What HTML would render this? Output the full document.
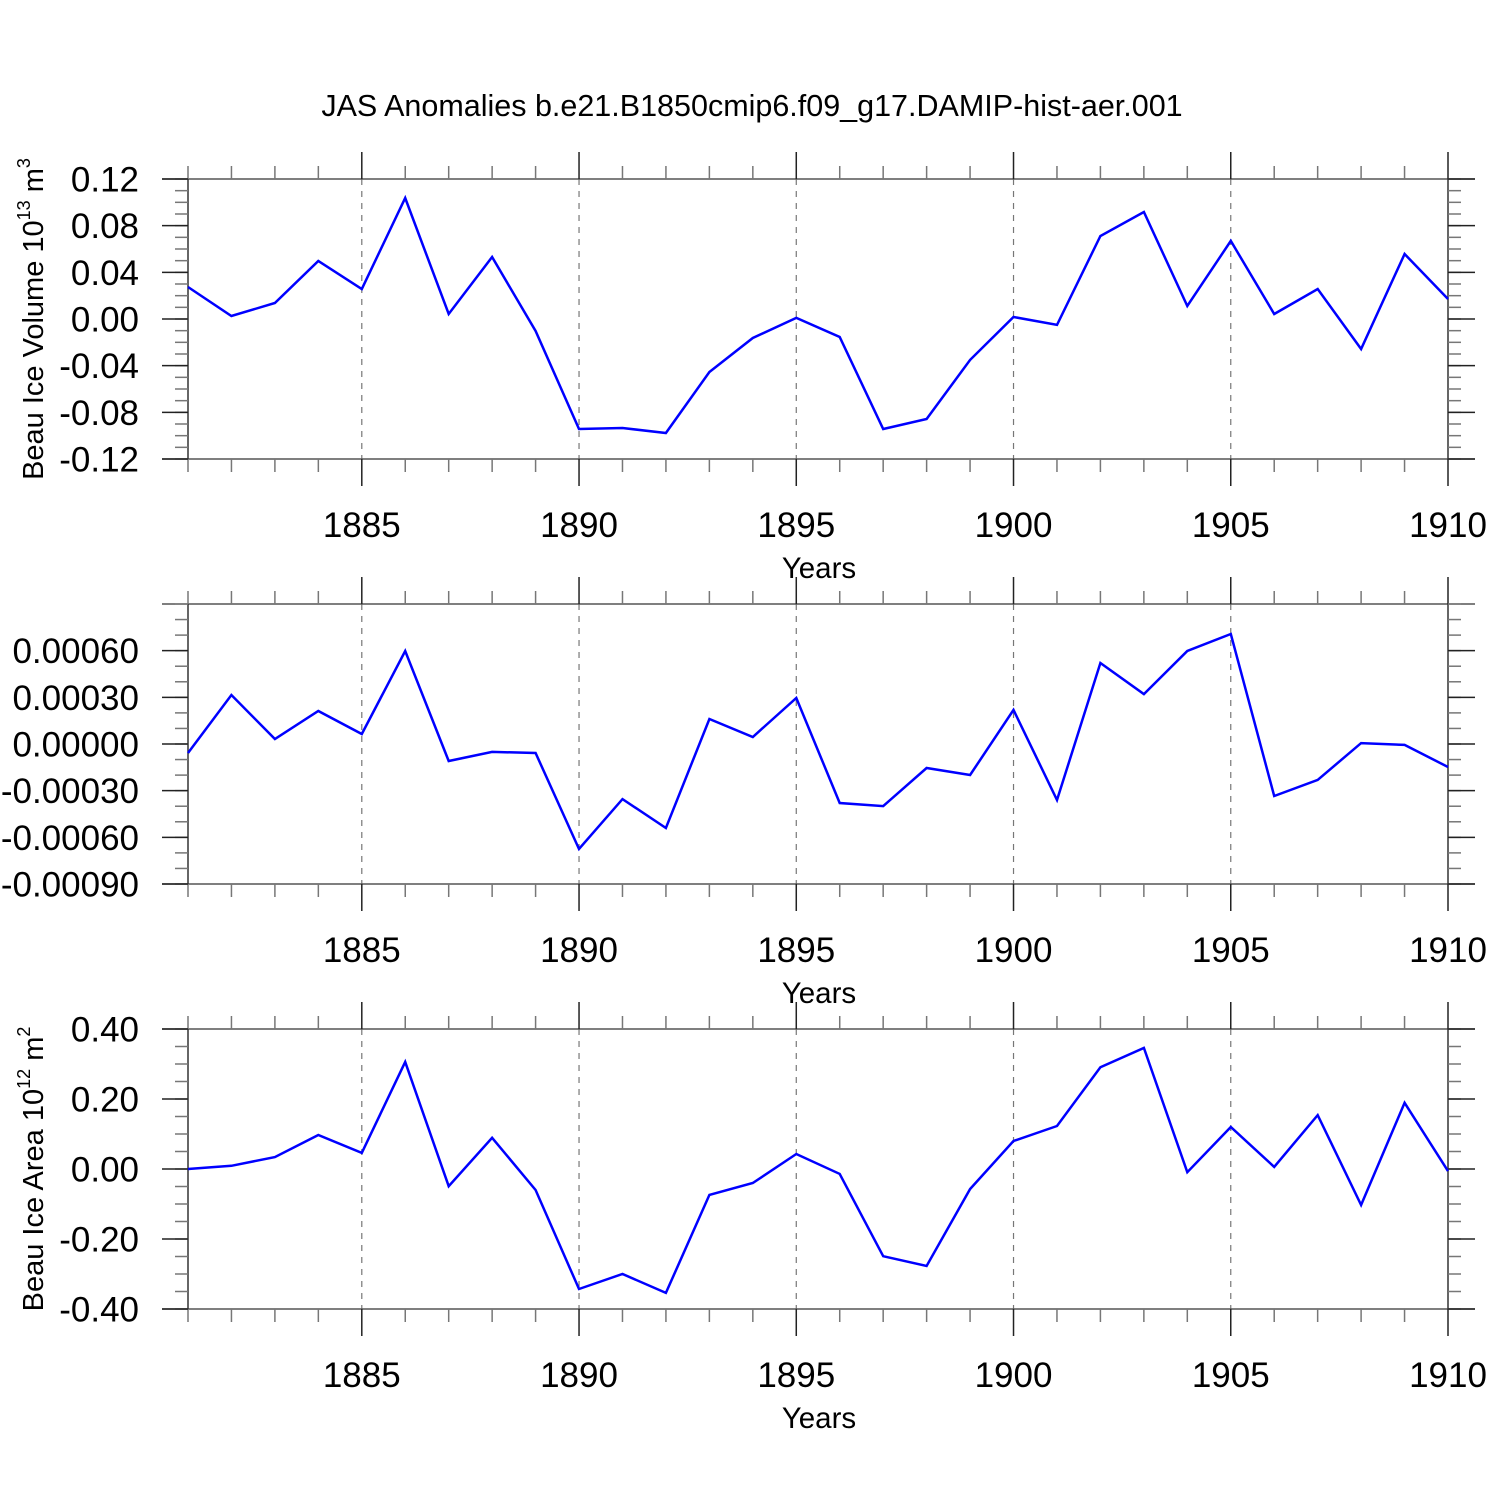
<!DOCTYPE html>
<html><head><meta charset="utf-8"><style>
html,body{margin:0;padding:0;background:#fff}
svg{display:block;font-family:"Liberation Sans",sans-serif}
</style></head><body>
<svg id="chart" width="1500" height="1500" viewBox="0 0 1500 1500" xmlns="http://www.w3.org/2000/svg">
<text x="752" y="116" font-size="30.5" text-anchor="middle">JAS Anomalies b.e21.B1850cmip6.f09_g17.DAMIP-hist-aer.001</text>
</svg>
<script>
const years = [1881,1882,1883,1884,1885,1886,1887,1888,1889,1890,1891,1892,1893,1894,1895,1896,1897,1898,1899,1900,1901,1902,1903,1904,1905,1906,1907,1908,1909,1910];
const volumeValues = [0.0274,0.0026,0.0137,0.0497,0.0257,0.1037,0.0043,0.0531,-0.0103,-0.0943,-0.0934,-0.0977,-0.0454,-0.0163,0.0009,-0.0154,-0.0943,-0.0857,-0.0351,0.0017,-0.0051,0.0711,0.0917,0.0111,0.0669,0.0043,0.0257,-0.0257,0.0557,0.0171];
const middleValues = [-0.000058,0.000315,0.000032,0.000212,0.000064,0.000598,-0.000109,-0.000051,-0.000058,-0.000675,-0.000354,-0.000540,0.000161,0.000045,0.000296,-0.000379,-0.000399,-0.000154,-0.000199,0.000219,-0.000360,0.000521,0.000321,0.000598,0.000707,-0.000334,-0.000231,0.000006,-0.000006,-0.000148];
const areaValues = [0,0.009,0.034,0.097,0.046,0.306,-0.049,0.089,-0.060,-0.343,-0.300,-0.354,-0.074,-0.040,0.043,-0.014,-0.249,-0.277,-0.057,0.080,0.123,0.291,0.346,-0.009,0.120,0.006,0.154,-0.103,0.189,-0.006];
const xTickLabels = ["1885","1890","1895","1900","1905","1910"];
const volumeTicks = ["0.12","0.08","0.04","0.00","-0.04","-0.08","-0.12"];
const middleTicks = ["0.00060","0.00030","0.00000","-0.00030","-0.00060","-0.00090"];
const areaTicks = ["0.40","0.20","0.00","-0.20","-0.40"];

const NS="http://www.w3.org/2000/svg";
const svg=document.getElementById('chart');
const X0=188,X1=1448,XMIN=1881,XMAX=1910;
function xs(v){return X0+(v-XMIN)/(XMAX-XMIN)*(X1-X0);}
function mk(tag,attrs,parent){const e=document.createElementNS(NS,tag);for(const k in attrs)e.setAttribute(k,attrs[k]);(parent||svg).appendChild(e);return e;}

const panels=[
 {name:'volume',top:179,bot:459,ymin:-0.12,ymax:0.12,vals:volumeValues,ticks:volumeTicks,tickVals:[0.12,0.08,0.04,0,-0.04,-0.08,-0.12],minor:0.01,title:'vol'},
 {name:'middle',top:604,bot:884,ymin:-0.0009,ymax:0.0009,vals:middleValues,ticks:middleTicks,tickVals:[0.0006,0.0003,0,-0.0003,-0.0006,-0.0009],minor:0.0001,title:null},
 {name:'area',top:1029,bot:1309,ymin:-0.4,ymax:0.4,vals:areaValues,ticks:areaTicks,tickVals:[0.4,0.2,0,-0.2,-0.4],minor:0.05,title:'area'}
];
panels.forEach(p=>{
  const g=mk('g',{});
  
  
  const ys=v=>p.bot-(v-p.ymin)/(p.ymax-p.ymin)*(p.bot-p.top);
  for(let yr=1885;yr<=1905;yr+=5){
    const l=mk('line',{x1:xs(yr),x2:xs(yr),y1:p.top,y2:p.bot,stroke:'#777','stroke-width':1.2,'stroke-dasharray':'6,6'},g);
    
    
  }
  mk('line',{x1:162,x2:1475,y1:p.top,y2:p.top,stroke:'#555','stroke-width':1.5},g);
  mk('line',{x1:162,x2:1475,y1:p.bot,y2:p.bot,stroke:'#555','stroke-width':1.5},g);
  mk('line',{x1:X0,x2:X0,y1:p.top,y2:p.bot,stroke:'#333','stroke-width':1.5},g);
  mk('line',{x1:X1,x2:X1,y1:p.top,y2:p.bot,stroke:'#333','stroke-width':1.5},g);
  for(let yr=XMIN;yr<=XMAX;yr++){
    const maj=yr%5===0, len=maj?27:13;
    mk('line',{x1:xs(yr),x2:xs(yr),y1:p.top,y2:p.top-len,stroke:maj?'#222':'#777','stroke-width':1.5},g);
    mk('line',{x1:xs(yr),x2:xs(yr),y1:p.bot,y2:p.bot+len,stroke:maj?'#222':'#777','stroke-width':1.5},g);
  }
  const n=Math.round((p.ymax-p.ymin)/p.minor);
  for(let i=0;i<=n;i++){
    const y=ys(p.ymin+i*p.minor);
    mk('line',{x1:X0,x2:X0-13,y1:y,y2:y,stroke:'#777','stroke-width':1.5},g);
    mk('line',{x1:X1,x2:X1+13,y1:y,y2:y,stroke:'#777','stroke-width':1.5},g);
  }
  p.tickVals.forEach((v,i)=>{
    const y=ys(v);
    mk('line',{x1:X0,x2:162,y1:y,y2:y,stroke:'#222','stroke-width':1.5},g);
    mk('line',{x1:X1,x2:1475,y1:y,y2:y,stroke:'#222','stroke-width':1.5},g);
    const t=mk('text',{x:139,y:y+12.5,'font-size':35,'text-anchor':'end'},g);
    t.textContent=p.ticks[i];
    
    
  });
  xTickLabels.forEach(s=>{
    const t=mk('text',{x:xs(+s),y:p.bot+78,'font-size':35,'text-anchor':'middle'},g);
    t.textContent=s;
    
    
  });
  const xt=mk('text',{x:819,y:p.bot+119,'font-size':29.5,'text-anchor':'middle'},g);
  xt.textContent='Years';
  
  
  if(p.title){
    const cy=(p.top+p.bot)/2;
    const t=mk('text',{x:0,y:0,'font-size':29,'text-anchor':'middle',transform:`translate(43,${cy}) rotate(-90)`},g);
    
    
    if(p.title==='vol') t.innerHTML='Beau Ice Volume 10<tspan font-size="18" dy="-13">13</tspan><tspan dy="13"> m</tspan><tspan font-size="18" dy="-13">3</tspan>';
    else t.innerHTML='Beau Ice Area 10<tspan font-size="18" dy="-13">12</tspan><tspan dy="13"> m</tspan><tspan font-size="18" dy="-13">2</tspan>';
  }
  const pts=p.vals.map((v,i)=>xs(years[i]).toFixed(1)+','+ys(v).toFixed(1)).join(' ');
  const line=mk('polyline',{points:pts,fill:'none',stroke:'#0000ff','stroke-width':2.5,'stroke-linejoin':'miter'},g);
  
  
});
</script>
</body></html>
